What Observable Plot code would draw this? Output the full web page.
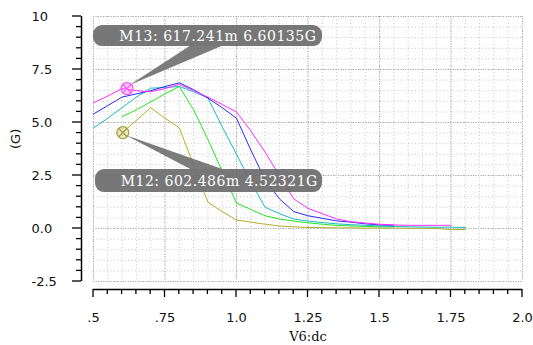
<!DOCTYPE html>
<html>
<head>
<meta charset="utf-8">
<script src="https://cdn.jsdelivr.net/npm/d3@7"></script>
<script src="https://cdn.jsdelivr.net/npm/@observablehq/plot@0.6"></script>
<style>
  html, body { margin: 0; padding: 0; background: #fff; }
</style>
</head>
<body>
<div id="chart"></div>
<script>
// ---- data ----
const vdc = [0.5,0.55,0.6,0.65,0.7,0.75,0.8,0.85,0.9,0.95,1.0,1.05,1.1,1.15,1.2,1.25,1.3,1.35,1.4,1.45,1.5,1.55,1.6,1.65,1.7,1.75,1.8];
const seriesNames = ["s1", "s2", "s3", "s4", "s5"];
const seriesColors = ["#b5ad2a", "#22e622", "#19bac6", "#2a2aff", "#ff2cff"];
const s1 = [null,null,4.52,5.1,5.7,5.2,4.75,3.0,1.24,0.8,0.4,0.3,0.2,0.12,0.08,0.05,0.04,0.03,0.03,0.02,0.02,0.02,0.01,0.01,0.0,-0.05,-0.05];
const s2 = [null,null,5.27,5.6,5.97,6.35,6.7,5.6,4.2,2.7,1.2,0.9,0.6,0.45,0.35,0.27,0.2,0.15,0.12,0.1,0.08,0.07,null,null,null,null,null];
const s3 = [4.74,5.2,5.7,6.2,6.62,6.65,6.7,6.45,6.16,4.8,3.5,2.2,1.0,0.7,0.45,0.35,0.28,0.22,0.18,0.15,0.12,0.1,0.08,0.07,0.06,0.06,0.05];
const s4 = [5.4,5.8,6.2,6.35,6.5,6.7,6.87,6.55,6.15,5.7,5.2,3.7,2.3,1.4,0.8,0.6,0.48,0.36,0.3,0.22,0.17,0.15,null,null,null,null,null];
const s5 = [5.93,6.25,6.6,6.5,6.45,6.6,6.8,6.5,6.2,5.85,5.5,4.6,3.6,2.5,1.4,0.95,0.7,0.45,0.32,0.26,0.2,0.17,0.15,0.15,0.15,0.15,null];
const seriesValues = [s1, s2, s3, s4, s5];

const markerNames = ["M13", "M12"];
const markerX = [0.617241, 0.602486];
const markerY = [6.60135, 4.52321];
const markerLabels = ["M13: 617.241m 6.60135G", "M12: 602.486m 4.52321G"];
const markerColors = ["#ff55ff", "#a9a23a"];

const xDomain = [0.5, 2.0];
const yDomain = [-2.5, 10];
const xMajor = [0.5, 0.75, 1.0, 1.25, 1.5, 1.75, 2.0];
const xTickLabels = [".5", ".75", "1.0", "1.25", "1.5", "1.75", "2.0"];
const yMajor = [10, 7.5, 5, 2.5, 0, -2.5];
const yTickLabels = ["10", "7.5", "5.0", "2.5", "0.0", "-2.5"];
const xMinor = d3.range(0, 31).map(i => +(0.5 + i * 0.05).toFixed(2));
const yMinor = d3.range(0, 26).map(i => +(-2.5 + i * 0.5).toFixed(1));
const xLabel = "V6:dc";
const yLabel = "(G)";

// ---- tables ----
const rows = [];
seriesValues.forEach((vals, k) => {
  vals.forEach((v, i) => { if (v != null) rows.push({x: vdc[i], y: v, s: seriesNames[k]}); });
});
const markers = markerNames.map((n, i) => ({name: n, x: markerX[i], y: markerY[i], label: markerLabels[i], color: markerColors[i]}));

// ---- layout (pixels) ----
const axisStyle = {yOffset: 12, xOffset: 8, yMajorLen: 9, yMinorLen: 5, xMajorLen: 8, xMinorLen: 5};
const calloutLayout = {
  M13: {box: [-33.5, -63, 229, 21], text: [-7.2, -47.5], wedge: [[3, -3], [63, -42], [95, -42]]},
  M12: {box: [-27.3, 37, 227, 23], text: [-1.6, 54], wedge: [[3, 3], [68, 37], [100, 37]]}
};

// axis ticks drawn through the plot's own scales
function axisTicks(index, scales) {
  const sx = scales.x, sy = scales.y;
  const g = d3.create("svg:g").attr("stroke", "#000").attr("stroke-width", 1.3);
  const ax = sx(xDomain[0]) - axisStyle.yOffset;
  const ay = sy(yDomain[0]) + axisStyle.xOffset;
  yMinor.forEach(v => {
    const len = yMajor.includes(v) ? axisStyle.yMajorLen : axisStyle.yMinorLen;
    g.append("line").attr("x1", ax).attr("x2", ax - len).attr("y1", sy(v)).attr("y2", sy(v));
  });
  xMinor.forEach(v => {
    const len = xMajor.includes(v) ? axisStyle.xMajorLen : axisStyle.xMinorLen;
    g.append("line").attr("x1", sx(v)).attr("x2", sx(v)).attr("y1", ay).attr("y2", ay + len);
  });
  return g.node();
}

function callouts(index, scales) {
  const sx = scales.x, sy = scales.y;
  const g = d3.create("svg:g");
  markers.forEach(m => {
    const px = sx(m.x), py = sy(m.y);
    const L = calloutLayout[m.name];
    const w = L.wedge.map(([a, b]) => [px + a, py + b]);
    g.append("path")
      .attr("d", `M${w[0]}L${w[1]}L${w[2]}Z`)
      .attr("fill", "#6e6e6e").attr("fill-opacity", 0.9);
    g.append("rect")
      .attr("x", px + L.box[0]).attr("y", py + L.box[1])
      .attr("width", L.box[2]).attr("height", L.box[3])
      .attr("rx", 9).attr("ry", 9)
      .attr("fill", "#6b6b6b").attr("fill-opacity", 0.92);
    g.append("text")
      .attr("x", px + L.text[0]).attr("y", py + L.text[1])
      .attr("fill", "#fff")
      .attr("text-anchor", "start")
      .attr("font-family", "'DejaVu Serif', serif")
      .attr("font-size", 14)
      .attr("letter-spacing", 0.5)
      .text(m.label);
  });
  return g.node();
}

const chart = Plot.plot({
  width: 533,
  height: 345,
  marginLeft: 93,
  marginRight: 11,
  marginTop: 16,
  marginBottom: 64,
  style: {fontFamily: "'DejaVu Sans', sans-serif", fontSize: "13px", background: "#fff", color: "#000"},
  x: {domain: xDomain, axis: null},
  y: {domain: yDomain, axis: null},
  color: {domain: seriesNames, range: seriesColors},
  marks: [
    Plot.ruleX(xMinor, {stroke: "#c4c4c4", strokeDasharray: "1,2.5"}),
    Plot.ruleY(yMinor, {stroke: "#c4c4c4", strokeDasharray: "1,2.5"}),
    Plot.ruleX(xMajor, {stroke: "#a8a8a8", strokeDasharray: "1,1.5"}),
    Plot.ruleY(yMajor, {stroke: "#a8a8a8", strokeDasharray: "1,1.5"}),
    // axis lines
    Plot.ruleX([xDomain[0]], {dx: -axisStyle.yOffset, stroke: "#000", strokeWidth: 1.5}),
    Plot.ruleY([yDomain[0]], {dy: axisStyle.xOffset, stroke: "#000", strokeWidth: 1.5}),
    axisTicks,
    // data lines
    Plot.line(rows, {x: "x", y: "y", z: "s", stroke: "s", strokeWidth: 1}),
    // markers
    Plot.dot(markers, {x: "x", y: "y", r: 6, stroke: "color", fill: "color", fillOpacity: 0.25, strokeWidth: 1.3}),
    Plot.dot(markers, {x: "x", y: "y", r: 4, symbol: "times", stroke: "color", strokeWidth: 1.3}),
    callouts,
    // tick labels
    Plot.text(yMajor, {y: d => d, text: (d, i) => yTickLabels[i], frameAnchor: "left", dx: -62, textAnchor: "start", fill: "#111"}),
    Plot.text(xMajor, {x: d => d, text: (d, i) => xTickLabels[i], frameAnchor: "bottom", dy: 36, lineAnchor: "middle", fill: "#111"}),
    Plot.text([xLabel], {frameAnchor: "bottom", dy: 55, lineAnchor: "middle", fontFamily: "'DejaVu Serif', serif", fontSize: 13, fill: "#111"}),
    Plot.text([yLabel], {frameAnchor: "left", dx: -78, rotate: -90, fill: "#111"})
  ]
});

document.getElementById("chart").append(chart);
</script>
</body>
</html>
